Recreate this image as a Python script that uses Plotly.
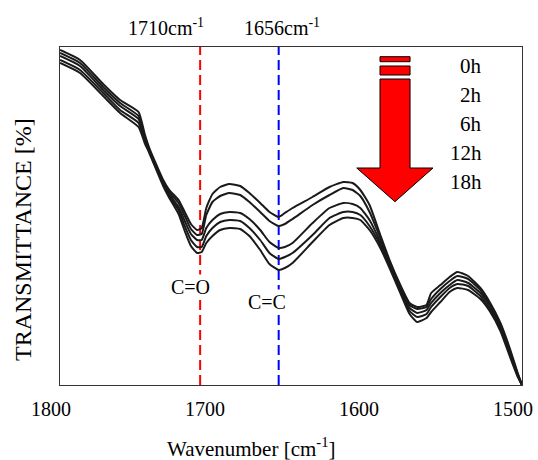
import plotly.graph_objects as go

# Wavenumber [cm-1]
wavenumber = [1800, 1787, 1772, 1761, 1749, 1745, 1742, 1733, 1729, 1723, 1719, 1715,
              1711, 1708, 1705, 1701, 1696, 1690, 1683, 1677, 1670, 1664, 1658, 1654,
              1649, 1636, 1625, 1616, 1610, 1605, 1599, 1592, 1586, 1579, 1573, 1568,
              1562, 1559, 1553, 1547, 1542, 1535, 1527, 1521, 1514, 1508, 1503, 1500]

# Transmittance (arbitrary units)
t_0h = [335, 325, 301, 285, 273, 251, 237, 205, 195, 185, 173, 161,
        155, 157, 177, 191, 198, 201, 199, 192, 182, 173, 168, 172,
        177, 188, 198, 203, 202, 195, 180, 150, 125, 100, 82, 78,
        80, 92, 100, 108, 113, 109, 97, 83, 62, 37, 13, 0]
t_2h = [332, 322, 298, 282, 269, 248, 235, 203, 193, 182, 169, 156,
        150, 151, 170, 183, 189, 192, 190, 183, 173, 164, 159, 161,
        166, 180, 190, 197, 195, 189, 173, 147, 123, 98, 80, 76,
        78, 86, 96, 104, 109, 106, 95, 81, 60, 35, 12, 0]
t_6h = [329, 319, 295, 279, 266, 246, 234, 202, 191, 178, 164, 151,
        145, 145, 157, 165, 171, 173, 172, 166, 155, 143, 137, 138,
        142, 162, 177, 182, 181, 177, 165, 143, 121, 96, 77, 72,
        75, 82, 92, 100, 105, 102, 92, 79, 58, 33, 11, 0]
t_12h = [325, 315, 292, 275, 262, 244, 233, 201, 189, 175, 159, 145,
         138, 138, 149, 157, 163, 165, 164, 157, 145, 132, 126, 128,
         132, 150, 167, 173, 173, 170, 159, 140, 119, 94, 74, 68,
         71, 78, 88, 97, 101, 99, 89, 76, 56, 31, 10, 0]
t_18h = [322, 312, 289, 272, 258, 242, 232, 199, 187, 171, 154, 139,
         132, 133, 142, 149, 155, 157, 156, 149, 135, 121, 115, 117,
         122, 143, 160, 167, 167, 165, 155, 137, 117, 92, 71, 63,
         67, 73, 83, 93, 97, 95, 86, 74, 54, 29, 9, 0]

series = [t_0h, t_2h, t_6h, t_12h, t_18h]
series_names = ["0h", "2h", "6h", "12h", "18h"]

x_ticks = [1800, 1700, 1600, 1500]
peak_positions = [1709, 1658]
peak_labels = ["1710cm<sup>-1</sup>", "1656cm<sup>-1</sup>"]
bond_labels = ["C=O", "C=C"]
peak_colors = ["#ff0000", "#0000ff"]

FONT = "Liberation Serif, Times New Roman, Times, serif"

W, H = 538, 460
L, R, T, B = 60, 16, 47, 75
pw, ph = W - L - R, H - T - B


def px2paper(px, py):
    return (px - L) / pw, (H - B - py) / ph


fig = go.Figure()
for ys, name in zip(series, series_names):
    fig.add_trace(go.Scatter(x=wavenumber, y=ys, mode="lines", name=name,
                             line=dict(color="#1a1a1a", width=2, shape="spline", smoothing=0.5),
                             showlegend=False))

shapes = []
for xp, col in zip(peak_positions, peak_colors):
    shapes.append(dict(type="line", xref="x", yref="paper", x0=xp, x1=xp, y0=0, y1=1,
                       line=dict(color=col, width=2, dash="10px,5px"), layer="below"))

# Decorative striped arrow (data coordinates)
shapes.append(dict(type="rect", xref="x", yref="y", x0=1592.2, x1=1572.7, y0=323.3, y1=328.3,
                   fillcolor="#ff0000", line=dict(color="#000", width=1)))
shapes.append(dict(type="rect", xref="x", yref="y", x0=1592.2, x1=1572.7, y0=310, y1=319,
                   fillcolor="#ff0000", line=dict(color="#000", width=1)))
shapes.append(dict(type="path", xref="x", yref="y",
                   path="M 1592.2 306 L 1572.7 306 L 1572.7 217 L 1557.8 217 L 1582.5 183.3 "
                        "L 1607.3 217 L 1592.2 217 Z",
                   fillcolor="#ff0000", line=dict(color="#000", width=1)))


def ann(text, px, py, size=20, xanchor="center", **kw):
    xp, yp = px2paper(px, py)
    return dict(x=xp, y=yp, xref="paper", yref="paper", text=text, showarrow=False,
                xanchor=xanchor, yanchor="middle",
                font=dict(size=size, family=FONT, color="#000"), **kw)


anns = []
for text, (px, py) in zip(peak_labels, [(166, 27), (282, 27)]):
    anns.append(ann(text, px, py))
for text, (px, py) in zip(bond_labels, [(190, 287), (267, 302)]):
    anns.append(ann(text, px, py, bgcolor="white", borderpad=1))
for i, name in enumerate(series_names):
    anns.append(ann(name, 484, 66 + 29 * i, size=21, xanchor="right"))
anns.append(ann("Wavenumber [cm<sup>-1</sup>]", 251, 447, size=21))
anns.append(ann("TRANSMITTANCE [%]", 23, 240, size=24, textangle=-90))

fig.update_layout(
    width=W, height=H,
    margin=dict(l=L, r=R, t=T, b=B, autoexpand=False),
    plot_bgcolor="white", paper_bgcolor="white",
    font=dict(family=FONT, size=20, color="#000"),
    shapes=shapes,
    annotations=anns,
)

fig.update_xaxes(range=[1800, 1500], tickvals=x_ticks, ticktext=[str(v) for v in x_ticks],
                 ticks="", showgrid=False, zeroline=False, showline=True, mirror=True,
                 automargin=False,
                 linecolor="#333", linewidth=1, tickfont=dict(size=20, family=FONT, color="#000"),
                 ticklabelstandoff=6, ticklabelshift=9)
fig.update_yaxes(range=[0, 338], showticklabels=False, ticks="", showgrid=False,
                 automargin=False,
                 zeroline=False, showline=True, mirror=True, linecolor="#333", linewidth=1)

fig.write_html("out.html", config={"displayModeBar": False},
               post_script="document.body.style.margin='0';document.body.style.overflow='hidden';")
